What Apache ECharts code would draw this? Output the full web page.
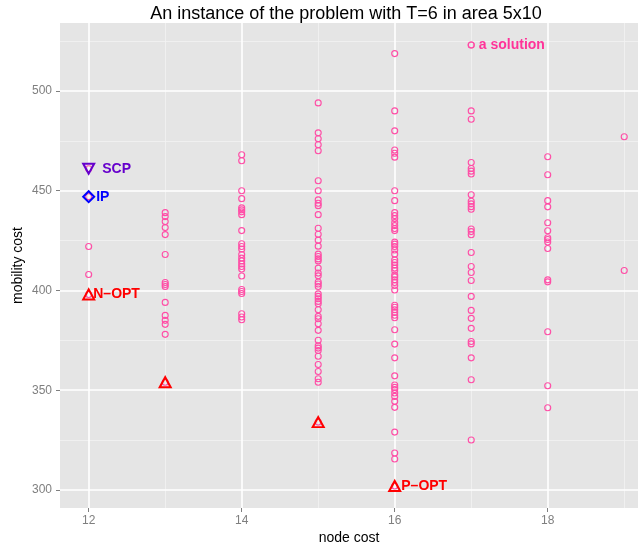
<!DOCTYPE html>
<html>
<head>
<meta charset="utf-8">
<script src="https://cdn.jsdelivr.net/npm/echarts@6/dist/echarts.min.js"></script>
<style>html,body{margin:0;padding:0;background:#fff}#c{width:638px;height:550px}</style>
</head>
<body>
<div id="c"></div>
<script>
// ---- data ----
const titleText = 'An instance of the problem with T=6 in area 5x10';
const xTitle = 'node cost';
const yTitle = 'mobility cost';
const xMajorTicks = [12, 14, 16, 18];
const xMinorTicks = [13, 15, 17, 19];
const yMajorTicks = [300, 350, 400, 450, 500];
const yMinorTicks = [325, 375, 425, 475, 525];

const nodeCosts = [12, 13, 14, 15, 16, 17, 18, 19];
const mob12 = [461, 447, 422, 408, 398];
const mob13 = [439, 437, 434.5, 431.5, 428, 418, 404, 403, 402, 394, 387.5, 385, 383, 378, 354];
const mob14 = [468, 465, 450, 446, 441.4, 440.4, 439.4, 438, 430, 423.4, 422, 420.7, 418, 416.2, 414.8, 413.3, 412, 410.7, 407.2, 400.5, 399.5, 398.5, 388.3, 386.7, 385.3];
const mob15 = [494, 479, 476, 473, 470, 455, 450, 445.4, 443.7, 442.5, 438, 431.2, 428.2, 425.2, 422.2, 418.2, 417, 415.8, 414.8, 411.2, 408.7, 407.3, 404.2, 403.2, 402, 398.3, 397, 395.8, 394.5, 393.3, 390.3, 387, 385.8, 383.3, 380, 375, 372.2, 371.1, 369.9, 367, 362.9, 359.4, 355.7, 354, 334];
const mob16 = [518.7, 490, 480, 470.4, 468.8, 466.8, 450, 445, 439, 437.5, 436, 434, 432.5, 431, 430, 424.2, 423.2, 422, 420.3, 418.2, 415.3, 414, 412.7, 411.2, 410, 407.7, 406.7, 405.3, 404, 402.5, 400.2, 392.6, 391.6, 390.3, 389, 387.6, 386.3, 380.3, 373.1, 366.2, 357.2, 352.6, 351.4, 350.3, 348.6, 346.9, 344.4, 341.4, 329, 318.5, 315.5, 302];
const mob17 = [523, 490, 485.8, 464.1, 461.1, 459.8, 458.4, 448, 444.7, 443.4, 442, 440.7, 430.8, 429.5, 427.9, 419, 412, 409, 405, 397, 390, 386, 381, 374.4, 373.2, 366.2, 355.2, 325];
const mob18 = [467, 458, 445, 441.9, 433.9, 429.9, 426.4, 425.5, 424.3, 421, 405.3, 404.3, 379.3, 352.2, 341.2];
const mob19 = [477, 410];
const mobilityByNode = [mob12, mob13, mob14, mob15, mob16, mob17, mob18, mob19];

// special points
const scpPoint = [12, 461];
const ipPoint = [12, 447];
const nOptPoint = [12, 398];
const pOptPoint = [16, 302];
const otherOptPoints = [[13, 354], [15, 334]];
const solutionLabelPoint = [17, 523];

// ---- build ----
const solutionData = [];
nodeCosts.forEach((n, i) => mobilityByNode[i].forEach(v => solutionData.push([n, v])));

const FONT = '"Liberation Sans", Arial, Helvetica, sans-serif';
const PINK = '#FF4DA6';
const RED = '#FF0000';

function lbl(color, dist, text) {
  return {
    show: true, position: 'right', distance: dist, formatter: text,
    color: color, fontFamily: FONT, fontSize: 14, fontWeight: 'bold',
    verticalAlign: 'middle'
  };
}

const xMin = 11.625, xMax = 19.18;
const yMin = 290.95, yMax = 534.05;

const chart = echarts.init(document.getElementById('c'), null, {renderer: 'canvas'});
chart.setOption({
  animation: false,
  backgroundColor: '#fff',
  title: {
    text: titleText, left: 341, top: 0, textAlign: 'center',
    textStyle: {fontFamily: FONT, fontSize: 18, fontWeight: 'normal', color: '#000'}
  },
  grid: {left: 60, right: 0, top: 23, bottom: 42, show: true, backgroundColor: '#E5E5E5', borderWidth: 0},
  xAxis: [{
    type: 'value', min: xMin, max: xMax,
    name: xTitle, nameLocation: 'middle', nameGap: 23, nameMoveOverlap: false,
    nameTextStyle: {fontFamily: FONT, fontSize: 14, color: '#000'},
    axisLine: {show: false},
    axisTick: {show: true, length: 4, customValues: xMajorTicks, lineStyle: {color: '#7F7F7F'}},
    axisLabel: {customValues: xMajorTicks, margin: 7, fontFamily: FONT, fontSize: 12, color: '#7F7F7F'},
    splitLine: {show: true, lineStyle: {color: '#FFFFFF', width: 1.6}},
    z: 2
  }, {
    type: 'value', min: xMin, max: xMax, position: 'bottom',
    axisLine: {show: false},
    axisTick: {show: false, customValues: xMinorTicks},
    axisLabel: {show: false, customValues: xMinorTicks},
    splitLine: {show: true, lineStyle: {color: '#F2F2F2', width: 0.8}},
    z: 1
  }],
  yAxis: [{
    type: 'value', min: yMin, max: yMax,
    name: yTitle, nameLocation: 'middle', nameGap: 35, nameMoveOverlap: false,
    nameTextStyle: {fontFamily: FONT, fontSize: 14, color: '#000'},
    axisLine: {show: false},
    axisTick: {show: true, length: 4, customValues: yMajorTicks, lineStyle: {color: '#7F7F7F'}},
    axisLabel: {customValues: yMajorTicks, margin: 8, fontFamily: FONT, fontSize: 12, color: '#7F7F7F'},
    splitLine: {show: true, lineStyle: {color: '#FFFFFF', width: 1.6}},
    z: 2
  }, {
    type: 'value', min: yMin, max: yMax, position: 'left',
    axisLine: {show: false},
    axisTick: {show: false, customValues: yMinorTicks},
    axisLabel: {show: false, customValues: yMinorTicks},
    splitLine: {show: true, lineStyle: {color: '#F2F2F2', width: 0.8}},
    z: 1
  }],
  series: [
    {
      type: 'scatter', xAxisIndex: 0, yAxisIndex: 0, data: solutionData,
      symbol: 'circle', symbolSize: 6,
      itemStyle: {color: 'rgba(0,0,0,0)', borderColor: PINK, borderWidth: 1.1, opacity: 1},
      z: 3
    },
    {
      type: 'scatter', data: [solutionLabelPoint], symbol: 'circle', symbolSize: 6,
      itemStyle: {color: 'rgba(0,0,0,0)', borderColor: PINK, borderWidth: 1.1, opacity: 1},
      label: lbl('#FF3399', 4, 'a solution'), z: 4
    },
    {
      type: 'scatter', data: [scpPoint], symbol: 'triangle', symbolRotate: 180, symbolSize: [11, 10],
      itemStyle: {color: 'rgba(0,0,0,0)', borderColor: '#6600CC', borderWidth: 2, opacity: 1},
      label: lbl('#6600CC', 7, 'SCP'), z: 5
    },
    {
      type: 'scatter', data: [ipPoint], symbol: 'diamond', symbolSize: [11, 11],
      itemStyle: {color: 'rgba(0,0,0,0)', borderColor: '#0000FF', borderWidth: 2, opacity: 1},
      label: lbl('#0000FF', 1, 'IP'), z: 5
    },
    {
      type: 'scatter', data: [nOptPoint], symbol: 'triangle', symbolSize: [11, 10],
      itemStyle: {color: 'rgba(0,0,0,0)', borderColor: RED, borderWidth: 2, opacity: 1},
      label: lbl(RED, -2, 'N\u2013OPT'), z: 5
    },
    {
      type: 'scatter', data: [pOptPoint], symbol: 'triangle', symbolSize: [11, 10],
      itemStyle: {color: 'rgba(0,0,0,0)', borderColor: RED, borderWidth: 2, opacity: 1},
      label: lbl(RED, 0, 'P\u2013OPT'), z: 5
    },
    {
      type: 'scatter', data: otherOptPoints, symbol: 'triangle', symbolSize: [11, 10],
      itemStyle: {color: 'rgba(0,0,0,0)', borderColor: RED, borderWidth: 2, opacity: 1},
      z: 5
    }
  ]
});
</script>
</body>
</html>
